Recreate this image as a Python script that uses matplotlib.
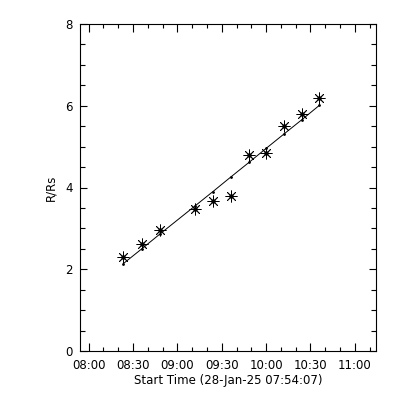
import matplotlib
matplotlib.use("Agg")
import matplotlib.pyplot as plt
from matplotlib.ticker import FuncFormatter, MultipleLocator

# minutes after 08:00
times_min = [23.5, 35.9, 48.1, 71.6, 84.0, 96.2, 108.6, 120.1, 132.1, 144.2, 156.0]
heights = [2.30, 2.62, 2.96, 3.48, 3.67, 3.80, 4.79, 4.85, 5.51, 5.81, 6.18]
fit_heights = [2.14, 2.50, 2.86, 3.54, 3.90, 4.26, 4.62, 4.96, 5.31, 5.66, 6.01]
x_limits = [-5.883, 194.3]
y_limits = [0, 8]
xlabel = "Start Time (28-Jan-25 07:54:07)"
ylabel = "R/Rs"

fig = plt.figure(figsize=(4, 4), dpi=100)
ax = fig.add_axes([0.2, 0.1225, 0.74, 0.8175])

ax.plot(times_min, fit_heights, color="black", lw=0.7)
ax.plot(times_min, fit_heights, ".", color="black", ms=2)
ax.plot(times_min, heights, linestyle="none", marker=(8, 2, 0), ms=8.5,
        color="black", mew=0.6)
ax.plot(times_min, heights, linestyle="none", marker="o", ms=2.2, color="black")

ax.set_xlim(*x_limits)
ax.set_ylim(*y_limits)

def fmt(v, pos):
    tot = int(round(v)) + 8 * 60
    return f"{tot // 60:02d}:{tot % 60:02d}"

ax.xaxis.set_major_locator(MultipleLocator(30))
ax.xaxis.set_minor_locator(MultipleLocator(10))
ax.xaxis.set_major_formatter(FuncFormatter(fmt))
ax.yaxis.set_major_locator(MultipleLocator(2))
ax.yaxis.set_minor_locator(MultipleLocator(0.5))

ax.tick_params(which="both", direction="in", top=True, right=True,
               labelsize=8.5, width=0.8)
ax.tick_params(which="major", axis="x", length=5.5)
ax.tick_params(which="minor", axis="x", length=2.7)
ax.tick_params(which="major", axis="y", length=5)
ax.tick_params(which="minor", axis="y", length=3.5)
ax.tick_params(axis="x", pad=6)
ax.tick_params(axis="y", pad=5)
for s in ax.spines.values():
    s.set_linewidth(0.8)

ax.set_xlabel(xlabel, fontsize=8.5, labelpad=1)
ax.set_ylabel(ylabel, fontsize=8.5, labelpad=6)

fig.savefig("out.png", dpi=100)
